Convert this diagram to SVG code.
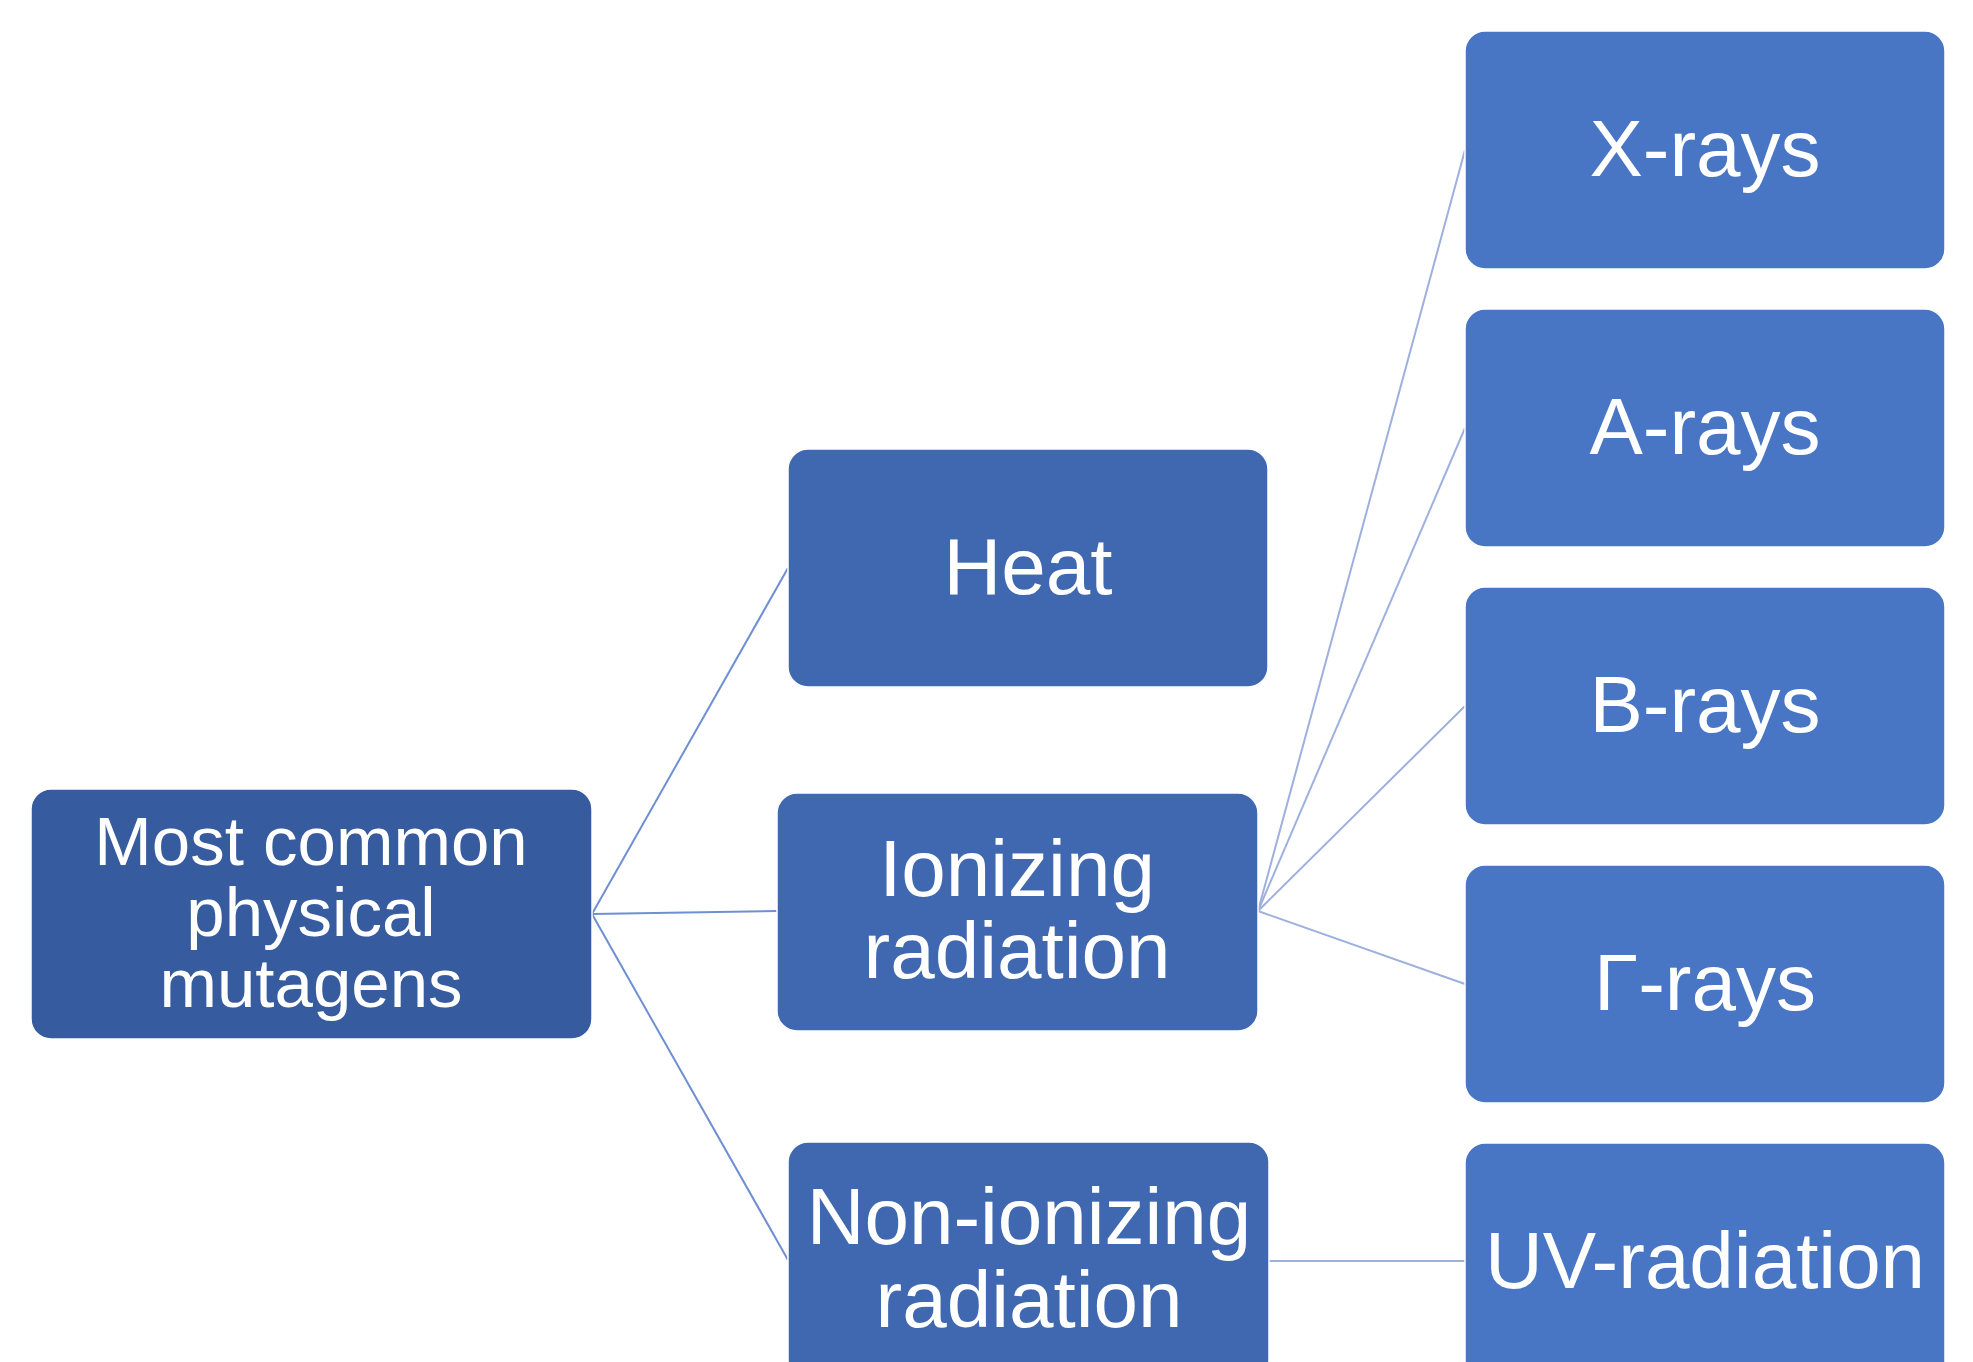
<svg xmlns="http://www.w3.org/2000/svg" width="1973" height="1362" viewBox="0 0 1973 1362">
<style>
.box{stroke:#ffffff;stroke-width:1.5}
.l1{fill:#365B9F}
.l2{fill:#3F68B1}
.l3{fill:#4876C4}
.t{font-family:"Liberation Sans",Arial,sans-serif;fill:#ffffff;text-anchor:middle;font-size:80px}
.tr{font-size:69px}
.c1{stroke:#6F8FD3;stroke-width:2;fill:none}
.c2{stroke:#9DB0DE;stroke-width:2;fill:none}
</style>
<rect width="1973" height="1362" fill="#ffffff"/>
<g id="connectors">
<line class="c1" x1="592" y1="914" x2="788" y2="568"/>
<line class="c1" x1="592" y1="914" x2="777" y2="911"/>
<line class="c1" x1="592" y1="914" x2="788" y2="1260"/>
<line class="c2" x1="1258" y1="911" x2="1465" y2="150"/>
<line class="c2" x1="1258" y1="911" x2="1465" y2="428"/>
<line class="c2" x1="1258" y1="911" x2="1465" y2="706"/>
<line class="c2" x1="1258" y1="911" x2="1465" y2="984"/>
<line class="c2" x1="1269" y1="1261" x2="1465" y2="1261"/>
</g>
<g id="root">
<rect class="box l1" x="31" y="789" width="561" height="250" rx="20"/>
<text class="t tr" x="311" y="865">Most common</text>
<text class="t tr" x="311" y="936">physical</text>
<text class="t tr" x="311" y="1007">mutagens</text>
</g>
<g id="heat">
<rect class="box l2" x="788" y="449" width="480" height="238" rx="20"/>
<text class="t" x="1028" y="594">Heat</text>
</g>
<g id="ionizing">
<rect class="box l2" x="777" y="793" width="481" height="238" rx="20"/>
<text class="t" x="1017" y="896">Ionizing</text>
<text class="t" x="1017" y="978">radiation</text>
</g>
<g id="nonionizing">
<rect class="box l2" x="788" y="1142" width="481" height="238" rx="20"/>
<text class="t" x="1029" y="1244">Non-ionizing</text>
<text class="t" x="1029" y="1327">radiation</text>
</g>
<g id="xrays">
<rect class="box l3" x="1465" y="31" width="480" height="238" rx="20"/>
<text class="t" x="1705" y="176">X-rays</text>
</g>
<g id="arays">
<rect class="box l3" x="1465" y="309" width="480" height="238" rx="20"/>
<text class="t" x="1705" y="454">A-rays</text>
</g>
<g id="brays">
<rect class="box l3" x="1465" y="587" width="480" height="238" rx="20"/>
<text class="t" x="1705" y="732">B-rays</text>
</g>
<g id="grays">
<rect class="box l3" x="1465" y="865" width="480" height="238" rx="20"/>
<text class="t" x="1705" y="1010">Γ-rays</text>
</g>
<g id="uv">
<rect class="box l3" x="1465" y="1143" width="480" height="238" rx="20"/>
<text class="t" x="1705" y="1288">UV-radiation</text>
</g>
</svg>
